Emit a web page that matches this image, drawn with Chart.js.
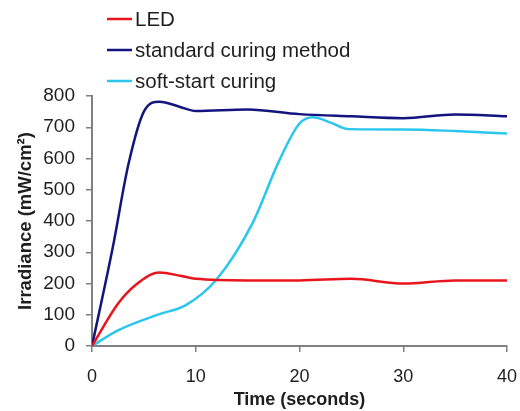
<!DOCTYPE html>
<html>
<head>
<meta charset="utf-8">
<script src="https://cdn.jsdelivr.net/npm/chart.js@4.4.0/dist/chart.umd.min.js"></script>
<style>
  html, body { margin: 0; padding: 0; background: #fff; }
  #wrap { width: 520px; height: 411px; }
</style>
</head>
<body>
<div id="wrap"><canvas id="irradianceChart" width="520" height="411"></canvas></div>
<script>
// Series (time in seconds, irradiance in mW/cm2)
var seriesLabels = ['LED', 'standard curing method', 'soft-start curing'];
var seriesColors = ['#e8161c', '#14147e', '#2bc6ee'];

var ledTime = [0, 2.5, 4.2, 6.5, 8.5, 10, 15, 20, 25, 30, 35, 40];
var ledValues = [0, 135, 195, 235, 225, 215, 210, 210, 215, 200, 210, 210];

var standardTime = [0, 2, 3.5, 5, 6.5, 8.5, 10, 15, 20, 25, 30, 35, 40];
var standardValues = [0, 315, 580, 750, 782, 765, 752, 757, 742, 735, 729, 741, 735];

var softTime = [0, 2.5, 6.5, 9, 12, 15.5, 18, 20, 21.3, 23, 24.7, 30, 35, 40];
var softValues = [0, 50, 102, 130, 213, 395, 590, 712, 732, 715, 694, 693, 688, 680];

var xTicks = [0, 10, 20, 30, 40];
var yTicks = [0, 100, 200, 300, 400, 500, 600, 700, 800];

function toPoints(xs, ys) {
    return xs.map(function(x, i) { return { x: x, y: ys[i] }; });
}

document.addEventListener('DOMContentLoaded', function() {
    var axisGrey = '#808080';
    var textColor = '#1e1e1e';
    var fontFamily = '"Liberation Sans", Arial, sans-serif';

    // Stacked legend in the top left corner
    var stackedLegend = {
        id: 'stackedLegend',
        afterDraw: function(chart) {
            var ctx = chart.ctx;
            ctx.save();
            ctx.font = '20.5px ' + fontFamily;
            ctx.textBaseline = 'middle';
            ctx.textAlign = 'left';
            chart.data.datasets.forEach(function(ds, i) {
                var y = 19 + i * 31;
                ctx.strokeStyle = ds.borderColor;
                ctx.lineWidth = 2.5;
                ctx.beginPath();
                ctx.moveTo(107, y);
                ctx.lineTo(132, y);
                ctx.stroke();
                ctx.fillStyle = textColor;
                ctx.fillText(ds.label, 135, y + 1);
            });
            ctx.restore();
        }
    };

    var ctx = document.getElementById('irradianceChart').getContext('2d');
    var irradianceChart = new Chart(ctx, {
        type: 'line',
        data: {
            datasets: [{
                label: seriesLabels[0],
                data: toPoints(ledTime, ledValues),
                borderColor: seriesColors[0],
                borderWidth: 2.5,
                pointRadius: 0,
                cubicInterpolationMode: 'monotone'
            }, {
                label: seriesLabels[1],
                data: toPoints(standardTime, standardValues),
                borderColor: seriesColors[1],
                borderWidth: 2.5,
                pointRadius: 0,
                cubicInterpolationMode: 'monotone'
            }, {
                label: seriesLabels[2],
                data: toPoints(softTime, softValues),
                borderColor: seriesColors[2],
                borderWidth: 2.5,
                pointRadius: 0,
                cubicInterpolationMode: 'monotone'
            }]
        },
        options: {
            responsive: false,
            animation: false,
            layout: {
                padding: { top: 96, right: 13, left: 0, bottom: 0 }
            },
            plugins: {
                legend: { display: false },
                tooltip: { enabled: false }
            },
            scales: {
                x: {
                    type: 'linear',
                    min: 0,
                    max: 40,
                    afterBuildTicks: function(scale) {
                        scale.ticks = xTicks.map(function(v) { return { value: v }; });
                    },
                    afterFit: function(scale) {
                        scale.height = 65;
                        scale.paddingLeft = 0;
                        scale.paddingRight = 0;
                    },
                    grid: {
                        drawOnChartArea: false,
                        drawTicks: true,
                        tickLength: 6,
                        color: axisGrey,
                        lineWidth: 1.5
                    },
                    border: { display: true, color: axisGrey, width: 2 },
                    ticks: {
                        padding: 14,
                        color: textColor,
                        maxRotation: 0,
                        font: { family: fontFamily, size: 18 }
                    },
                    title: {
                        display: true,
                        text: 'Time (seconds)',
                        color: textColor,
                        padding: { top: 0, bottom: 0 },
                        font: { family: fontFamily, size: 18, weight: 'bold' }
                    }
                },
                y: {
                    min: 0,
                    max: 800,
                    afterBuildTicks: function(scale) {
                        scale.ticks = yTicks.map(function(v) { return { value: v }; });
                    },
                    afterFit: function(scale) { scale.width = 92; },
                    grid: {
                        drawOnChartArea: false,
                        drawTicks: true,
                        tickLength: 6,
                        color: axisGrey,
                        lineWidth: 1.5
                    },
                    border: { display: true, color: axisGrey, width: 2 },
                    ticks: {
                        padding: 11,
                        color: textColor,
                        font: { family: fontFamily, size: 19 }
                    },
                    title: {
                        display: true,
                        text: 'Irradiance (mW/cm\u00B2)',
                        color: textColor,
                        padding: { top: 15, bottom: 0 },
                        font: { family: fontFamily, size: 18.5, weight: 'bold' }
                    }
                }
            }
        },
        plugins: [stackedLegend]
    });
});
</script>
</body>
</html>
